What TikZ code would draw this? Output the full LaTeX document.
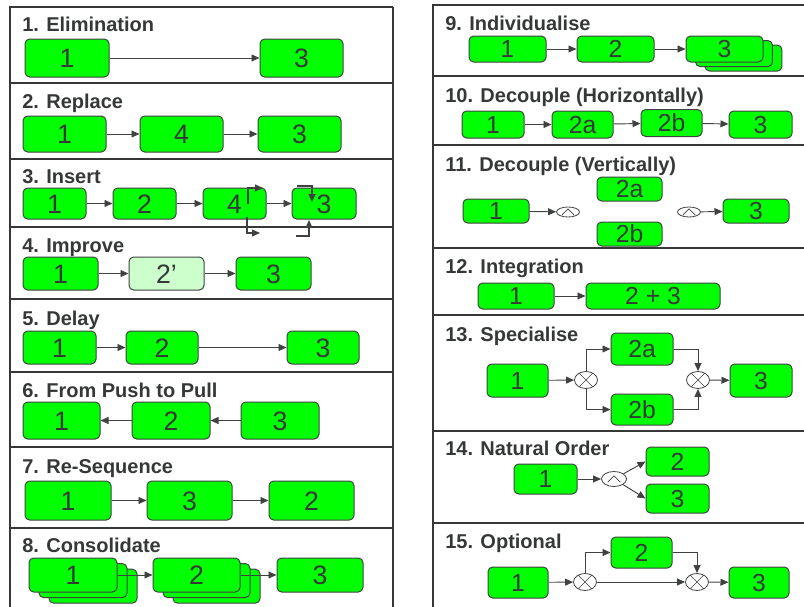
\documentclass[tikz,border=0pt]{standalone}
\usepackage{fontspec}
\setmainfont{Liberation Sans}
\usepackage{tikz}
\usetikzlibrary{shapes.geometric, arrows.meta, shadows}
\definecolor{boxgreen}{HTML}{00FF00}
\definecolor{palegreen}{HTML}{CCFFCC}
\definecolor{ink}{HTML}{363838}
\definecolor{edge}{HTML}{404242}
\tikzstyle{task} = [rectangle, rounded corners=3.5pt, draw=edge, line width=0.75pt, fill=boxgreen, text=ink, inner sep=0pt, font=\fontsize{20}{21}\selectfont, text height=14.3pt, text depth=0pt]
\tikzstyle{taskr} = [task, font=\fontsize{18.5}{19}\selectfont, text height=13.2pt]
\tikzstyle{improved} = [task, fill=palegreen]
\tikzstyle{pile} = [double copy shadow={shadow xshift=7.5pt, shadow yshift=-4.2pt, fill=boxgreen, draw=edge, line width=0.75pt}]
\tikzstyle{heading} = [anchor=base west, inner sep=0pt, text=ink, font=\fontsize{15}{16}\selectfont\bfseries]
\tikzstyle{arrow} = [-{Triangle[length=6pt,width=5.2pt]}, line width=0.7pt, draw=edge]
\tikzstyle{frame} = [draw=ink, line width=1.6pt]
\tikzstyle{gate} = [ellipse, draw=edge, line width=0.6pt, fill=white, inner sep=0pt]
\tikzstyle{xgate} = [gate, minimum width=17.25pt, minimum height=12.75pt, path picture={\draw[edge, line width=0.5pt] (path picture bounding box.center) +(-8pt,-8pt) -- +(8pt,8pt) (path picture bounding box.center) +(-8pt,8pt) -- +(8pt,-8pt);}]
\tikzstyle{andgate} = [gate, minimum width=17.25pt, minimum height=7.5pt, path picture={\draw[edge, line width=0.5pt] ([shift={(-4.7pt,-2.3pt)}]path picture bounding box.center) -- ([shift={(0pt,2.4pt)}]path picture bounding box.center) -- ([shift={(4.7pt,-2.3pt)}]path picture bounding box.center);}]

\begin{document}
\begin{tikzpicture}[x=0.75pt, y=-0.75pt]
	\useasboundingbox (0,0) rectangle (804,607);

	% left frame
	\draw [frame, line width=2pt] (10,612) -- (10,7) -- (393,7);
	\draw [frame] (393,7) -- (393,612);
	\draw [frame] (10,83) -- (393,83) (10,159) -- (393,159) (10,227) -- (393,227) (10,299) -- (393,299);
	\draw [frame] (10,372) -- (393,372) (10,447) -- (393,447) (10,528) -- (393,528);

	% right frame
	\draw [frame, line width=2.2pt] (433,612) -- (433,5) -- (806,5);
	\draw [frame] (433,76) -- (806,76) (433,145) -- (806,145) (433,248) -- (806,248);
	\draw [frame] (433,315) -- (806,315) (433,431) -- (806,431) (433,523) -- (806,523);

	% 1
	\node (t1) [heading] at (22,31) {1. Elimination};
	\node (a1) [task, minimum width=63pt, minimum height=28.5pt] at (67,58) {1};
	\node (a3) [task, minimum width=62.25pt, minimum height=28.5pt] at (301.5,58) {3};
	\draw [arrow] (a1) -- (a3);

	% 2
	\node (t2) [heading] at (22,108) {2. Replace};
	\node (b1) [task, minimum width=62.25pt, minimum height=27pt] at (64.5,134) {1};
	\node (b4) [task, minimum width=62.25pt, minimum height=27pt] at (181.5,134) {4};
	\node (b3) [task, minimum width=62.25pt, minimum height=27pt] at (299.5,134) {3};
	\draw [arrow] (b1) -- (b4);
	\draw [arrow] (b4) -- (b3);

	% 3
	\node (t3) [heading] at (22,183) {3. Insert};
	\node (c1) [task, minimum width=47.25pt, minimum height=23.25pt] at (54.5,203.5) {1};
	\node (c2) [task, minimum width=47.25pt, minimum height=23.25pt] at (144.5,203.5) {2};
	\node (c4) [task, minimum width=47.25pt, minimum height=23.25pt] at (234.5,203.5) {4};
	\node (c3) [task, minimum width=48pt, minimum height=23.25pt] at (324,203.5) {3};
	\draw [arrow] (c1) -- (c2);
	\draw [arrow] (c2) -- (c4);
	\draw [arrow] (c4) -- (c3);
	\coordinate (c4in) at (248,204);
	\coordinate (c4up) at (263,188);
	\coordinate (c4lo) at (247,217);
	\coordinate (c4out) at (260,233);
	\coordinate (c3top) at (297,186);
	\coordinate (c3in) at (312,202);
	\coordinate (c3bot) at (296,236);
	\coordinate (c3up) at (309,220);
	\draw [arrow, line width=1pt] (c4in) |- (c4up);
	\draw [arrow, line width=1pt] (c4lo) |- (c4out);
	\draw [arrow, line width=1pt] (c3top) -| (c3in);
	\draw [arrow, line width=1pt] (c3bot) -| (c3up);

	% 4
	\node (t4) [heading] at (22,252) {4. Improve};
	\node (d1) [task, minimum width=56.25pt, minimum height=24.75pt] at (60.5,273.5) {1};
	\node (d2) [improved, minimum width=56.25pt, minimum height=24.75pt] at (166.5,273.5) {2’};
	\node (d3) [task, minimum width=56.25pt, minimum height=24.75pt] at (273.5,273.5) {3};
	\draw [arrow] (d1) -- (d2);
	\draw [arrow] (d2) -- (d3);

	% 5
	\node (t5) [heading] at (22,325) {5. Delay};
	\node (e1) [task, minimum width=54.75pt, minimum height=24.75pt] at (59.5,347.5) {1};
	\node (e2) [task, minimum width=54pt, minimum height=24.75pt] at (162,347.5) {2};
	\node (e3) [task, minimum width=54pt, minimum height=24.75pt] at (323,347.5) {3};
	\draw [arrow] (e1) -- (e2);
	\draw [arrow] (e2) -- (e3);

	% 6
	\node (t6) [heading] at (22,397) {6. From Push to Pull};
	\node (f1) [task, minimum width=57.75pt, minimum height=27.75pt] at (61.5,420.5) {1};
	\node (f2) [task, minimum width=58.5pt, minimum height=27.75pt] at (171,420.5) {2};
	\node (f3) [task, minimum width=58.5pt, minimum height=27.75pt] at (280,420.5) {3};
	\draw [arrow] (f2) -- (f1);
	\draw [arrow] (f3) -- (f2);

	% 7
	\node (t7) [heading] at (22,473) {7. Re-Sequence};
	\node (g1) [task, minimum width=64.5pt, minimum height=29.25pt] at (68,500.5) {1};
	\node (g3) [task, minimum width=63.75pt, minimum height=29.25pt] at (189.5,500.5) {3};
	\node (g2) [task, minimum width=63.75pt, minimum height=29.25pt] at (311.5,500.5) {2};
	\draw [arrow] (g1) -- (g3);
	\draw [arrow] (g3) -- (g2);

	% 8
	\node (t8) [heading] at (22,552) {8. Consolidate};
	\node (h1) [task, pile, minimum width=66pt, minimum height=25.5pt] at (73,575) {1};
	\node (h2) [task, pile, minimum width=65.25pt, minimum height=25.5pt] at (196.5,575) {2};
	\node (h3) [task, minimum width=64.5pt, minimum height=25.5pt] at (320,575) {3};
	\draw [arrow] (h1) -- (h2);
	\draw [arrow] (h2) -- (h3);

	% 9
	\node (t9) [heading] at (445,30) {9. Individualise};
	\node (i1) [taskr, minimum width=57.75pt, minimum height=19.5pt] at (507.5,49) {1};
	\node (i2) [taskr, minimum width=57.75pt, minimum height=19.5pt] at (615.5,49) {2};
	\node (i3) [taskr, double copy shadow={shadow xshift=7.1pt, shadow yshift=-3.4pt, fill=boxgreen, draw=edge, line width=0.75pt}, minimum width=57.75pt, minimum height=19.5pt] at (724.5,49) {3};
	\draw [arrow] (i1) -- (i2);
	\draw [arrow] (i2) -- (i3);

	% 10
	\node (t10) [heading] at (445,102) {10. Decouple (Horizontally)};
	\node (j1) [taskr, minimum width=46.5pt, minimum height=20.25pt] at (493,124.5) {1};
	\node (j2a) [taskr, minimum width=45.75pt, minimum height=20.25pt] at (582.5,124.5) {2a};
	\node (j2b) [taskr, minimum width=45.75pt, minimum height=20.25pt] at (671.5,123) {2b};
	\node (j3) [taskr, minimum width=47.25pt, minimum height=20.25pt] at (760.5,124.5) {3};
	\draw [arrow] (j1) -- (j2a);
	\draw [arrow] (j2a) -- (j2b);
	\draw [arrow] (j2b) -- (j3);

	% 11
	\node (t11) [heading] at (445,171) {11. Decouple (Vertically)};
	\node (k1) [taskr, minimum width=49.5pt, minimum height=18pt] at (496,211) {1};
	\node (k2a) [taskr, minimum width=48.75pt, minimum height=18pt] at (629.5,189) {2a};
	\node (k2b) [taskr, minimum width=48.75pt, minimum height=18pt] at (629.5,234) {2b};
	\node (k3) [taskr, minimum width=49.5pt, minimum height=18pt] at (756,211) {3};
	\node (g11a) [andgate] at (568,212) {};
	\node (g11b) [andgate] at (689,212) {};
	\draw [arrow] (k1) -- (g11a);
	\draw [arrow] (g11b) -- (k3);

	% 12
	\node (t12) [heading] at (445,273) {12. Integration};
	\node (l1) [taskr, minimum width=57pt, minimum height=19.5pt] at (516,296) {1};
	\node (l23) [taskr, minimum width=100.5pt, minimum height=19.5pt] at (653,296) {2 + 3};
	\draw [arrow] (l1) -- (l23);

	% 13
	\node (t13) [heading] at (445,341) {13. Specialise};
	\node (m1) [taskr, minimum width=45.75pt, minimum height=24.75pt] at (517.5,380.5) {1};
	\node (m2a) [taskr, minimum width=46.5pt, minimum height=24pt] at (642,349) {2a};
	\node (m2b) [taskr, minimum width=46.5pt, minimum height=23.25pt] at (642,409.5) {2b};
	\node (m3) [taskr, minimum width=46.5pt, minimum height=24.75pt] at (761,380.5) {3};
	\node (g13a) [xgate] at (586,380) {};
	\node (g13b) [xgate] at (698,380) {};
	\draw [arrow] (m1) -- (g13a);
	\draw [arrow] (g13a.north) |- (m2a.west);
	\draw [arrow] (g13a.south) |- (m2b.west);
	\draw [arrow] (m2a.east) -| (g13b.north);
	\draw [arrow] (m2b.east) -| (g13b.south);
	\draw [arrow] (g13b) -- (m3);

	% 14
	\node (t14) [heading] at (445,455) {14. Natural Order};
	\node (n1) [taskr, minimum width=47.25pt, minimum height=22.5pt] at (545.5,479) {1};
	\node (n2) [taskr, minimum width=47.25pt, minimum height=21.75pt] at (677.5,461.5) {2};
	\node (n3) [taskr, minimum width=47.25pt, minimum height=21.75pt] at (677.5,498.5) {3};
	\node (g14) [andgate, minimum width=18.75pt, minimum height=11.25pt] at (614,479) {};
	\draw [arrow] (n1) -- (g14);
	\draw [arrow] (g14) -- (n2.west);
	\draw [arrow] (g14) -- (n3.west);

	% 15
	\node (t15) [heading] at (445,548) {15. Optional};
	\node (o1) [taskr, minimum width=45pt, minimum height=23.25pt] at (518,582.5) {1};
	\node (o2) [taskr, minimum width=45.75pt, minimum height=23.25pt] at (641.5,552.5) {2};
	\node (o3) [taskr, minimum width=45pt, minimum height=23.25pt] at (759,582.5) {3};
	\node (g15a) [xgate] at (585,582) {};
	\node (g15b) [xgate] at (697,582) {};
	\draw [arrow] (o1) -- (g15a);
	\draw [arrow] (g15a.north) |- (o2.west);
	\draw [arrow] (g15a) -- (g15b);
	\draw [arrow] (o2.east) -| (g15b.north);
	\draw [arrow] (g15b) -- (o3);

\end{tikzpicture}
\end{document}
